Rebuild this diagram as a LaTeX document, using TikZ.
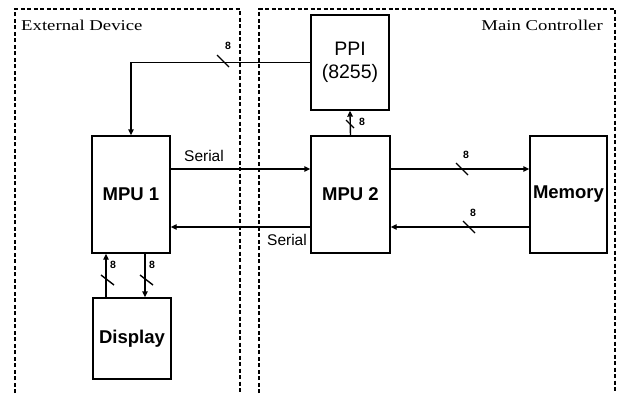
\documentclass[tikz,border=0pt]{standalone}
\usepackage{fontspec}
\setmainfont{Liberation Sans}
\newfontfamily\titlefont[FakeStretch=1.25]{Liberation Serif}
\usetikzlibrary{arrows.meta}
\begin{document}
\begin{tikzpicture}[x=1pt,y=-1pt,
  blk/.style={draw,line width=1.4pt,rectangle,inner sep=0pt,align=center,font=\fontsize{18.5}{20}\selectfont\bfseries},
  bus/.style={line width=1.4pt,-{Triangle[length=6pt,width=5.5pt]}},
  frame/.style={line width=1.3pt,dash pattern=on 4pt off 2.5pt},
  slashmk/.style={line width=1.4pt},
  num/.style={font=\fontsize{10.5}{12}\selectfont\bfseries,inner sep=0pt},
  lbl/.style={font=\fontsize{15.5}{17}\selectfont,inner sep=0pt},
  ttl/.style={font=\titlefont\fontsize{15}{17}\selectfont,inner sep=0pt}]
\useasboundingbox (0,0) rectangle (625,394);
% dashed frames
\draw[frame] (15,393) -- (15,9) -- (240,9) -- (240,393);
\draw[frame] (259,393) -- (259,9) -- (615,9) -- (615,393);
\node[ttl,anchor=west] (ext) at (21,25) {External Device};
\node[ttl,anchor=east] (mc) at (603,25) {Main Controller};
% blocks
\node[blk,minimum width=78pt,minimum height=95pt,font=\fontsize{19.5}{23}\selectfont] (ppi) at (350,62.5) {PPI\\(8255)};
\node[blk,minimum width=78pt,minimum height=117pt] (mpu1) at (131,194.5) {MPU 1};
\node[blk,minimum width=79pt,minimum height=117pt] (mpu2) at (350.5,194.5) {MPU 2};
\node[blk,minimum width=77pt,minimum height=117pt] (mem) at (568.5,194.5) {Memory};
\node[blk,minimum width=78pt,minimum height=81pt] (disp) at (132,338.5) {Display};
% connectors
\draw[bus] (ppi.west) -| (mpu1.north);
\draw[bus] ([yshift=25.5pt]mpu1.east) -- ([yshift=25.5pt]mpu2.west);
\draw[bus] ([yshift=-32.5pt]mpu2.west) -- ([yshift=-32.5pt]mpu1.east);
\draw[bus] ([yshift=25.5pt]mpu2.east) -- ([yshift=25.5pt]mem.west);
\draw[bus] ([yshift=-32.5pt]mem.west) -- ([yshift=-32.5pt]mpu2.east);
\draw[bus] (mpu2.north) -- (ppi.south);
\draw[bus] ([xshift=-26pt]disp.north) -- ([xshift=-26pt]disp.north |- mpu1.south);
\draw[bus] ([xshift=14pt]mpu1.south) -- ([xshift=14pt]mpu1.south |- disp.north);
% bus-width slashes
\draw[slashmk] (217,55) -- (229,67);
\draw[slashmk] (346,120) -- (354,128);
\draw[slashmk] (456,163) -- (468,175);
\draw[slashmk] (463,221) -- (475,233);
\draw[slashmk] (101,275) -- (114,285);
\draw[slashmk] (140,275) -- (153,285);
% labels
\node[num] (n1) at (228,46) {8};
\node[num] (n2) at (362,122) {8};
\node[num] (n3) at (466,155) {8};
\node[num] (n4) at (473,213) {8};
\node[num] (n5) at (113,265) {8};
\node[num] (n6) at (152,265) {8};
\node[lbl] (s1) at (204,156) {Serial};
\node[lbl] (s2) at (287,240) {Serial};
\end{tikzpicture}
\end{document}
